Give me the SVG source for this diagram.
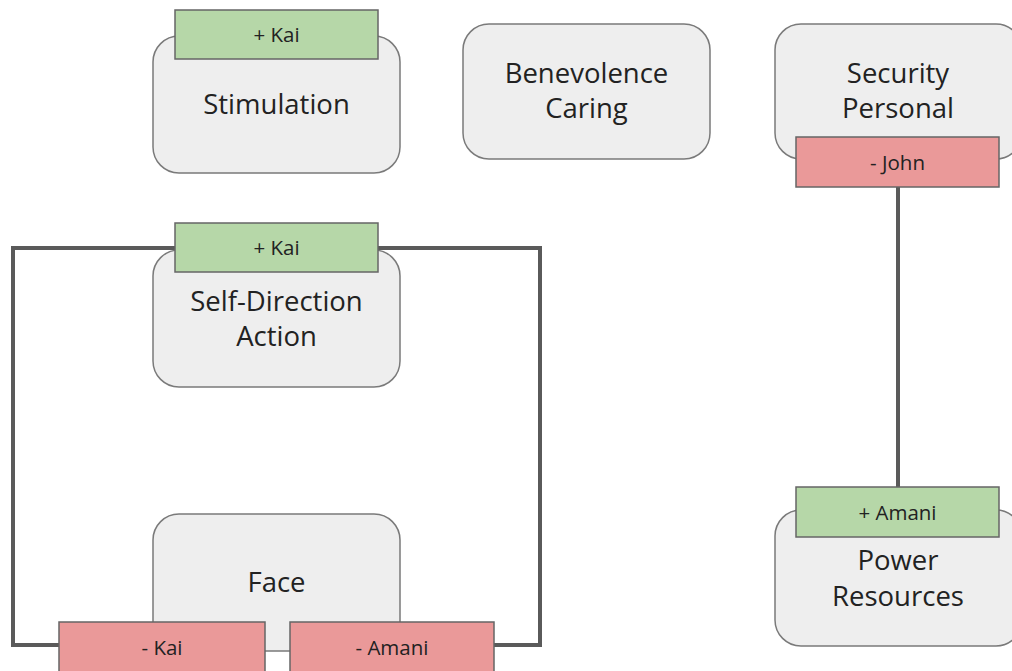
<svg xmlns="http://www.w3.org/2000/svg" width="1012" height="671" viewBox="0 0 1012 671">
<style>
.node{fill:#eeeeee;stroke:#7a7a7a;stroke-width:1.5}
.pos{fill:#b6d7a8;stroke:#666666;stroke-width:1.5}
.neg{fill:#ea9999;stroke:#666666;stroke-width:1.5}
.t{font-family:"Open Sans","DejaVu Sans",sans-serif;font-size:27.5px;fill:#222222;text-anchor:middle}
.l{font-family:"Open Sans","DejaVu Sans",sans-serif;font-size:20.5px;fill:#222222;text-anchor:middle}
.c{fill:none;stroke:#5a5a5a;stroke-width:4;stroke-linejoin:miter}
</style>
<rect width="1012" height="671" fill="#ffffff"/>
<g id="connectors">
<path class="c" d="M175,248 H13 V645 H59"/>
<path class="c" d="M377,248 H540 V645 H494"/>
<path class="c" d="M898,187 V487"/>
</g>
<g id="stimulation">
<rect class="node" x="153" y="36" width="247" height="137" rx="26"/>
<text class="t" x="276.5" y="114">Stimulation</text>
<rect class="pos" x="175" y="10" width="203" height="49"/>
<text class="l" x="276.5" y="42">+ Kai</text>
</g>
<g id="benevolence">
<rect class="node" x="463" y="24" width="247" height="135" rx="26"/>
<text class="t" x="586.5" y="83">Benevolence</text>
<text class="t" x="586.5" y="118">Caring</text>
</g>
<g id="security">
<rect class="node" x="775" y="24" width="247" height="135" rx="26"/>
<text class="t" x="898" y="83">Security</text>
<text class="t" x="898" y="118">Personal</text>
<rect class="neg" x="796" y="137" width="203" height="50"/>
<text class="l" x="897.5" y="170">- John</text>
</g>
<g id="self-direction">
<rect class="node" x="153" y="250" width="247" height="137" rx="26"/>
<text class="t" x="276.5" y="311">Self-Direction</text>
<text class="t" x="276.5" y="346">Action</text>
<rect class="pos" x="175" y="223" width="203" height="49"/>
<text class="l" x="276.5" y="255">+ Kai</text>
</g>
<g id="face">
<rect class="node" x="153" y="514" width="247" height="137" rx="26"/>
<text class="t" x="276.5" y="592">Face</text>
<rect class="neg" x="59" y="622" width="206" height="52"/>
<text class="l" x="162" y="655">- Kai</text>
<rect class="neg" x="290" y="622" width="204" height="52"/>
<text class="l" x="392" y="655">- Amani</text>
</g>
<g id="power">
<rect class="node" x="775" y="510" width="247" height="136" rx="26"/>
<text class="t" x="898" y="570">Power</text>
<text class="t" x="898" y="606">Resources</text>
<rect class="pos" x="796" y="487" width="203" height="50"/>
<text class="l" x="897.5" y="520">+ Amani</text>
</g>
</svg>
